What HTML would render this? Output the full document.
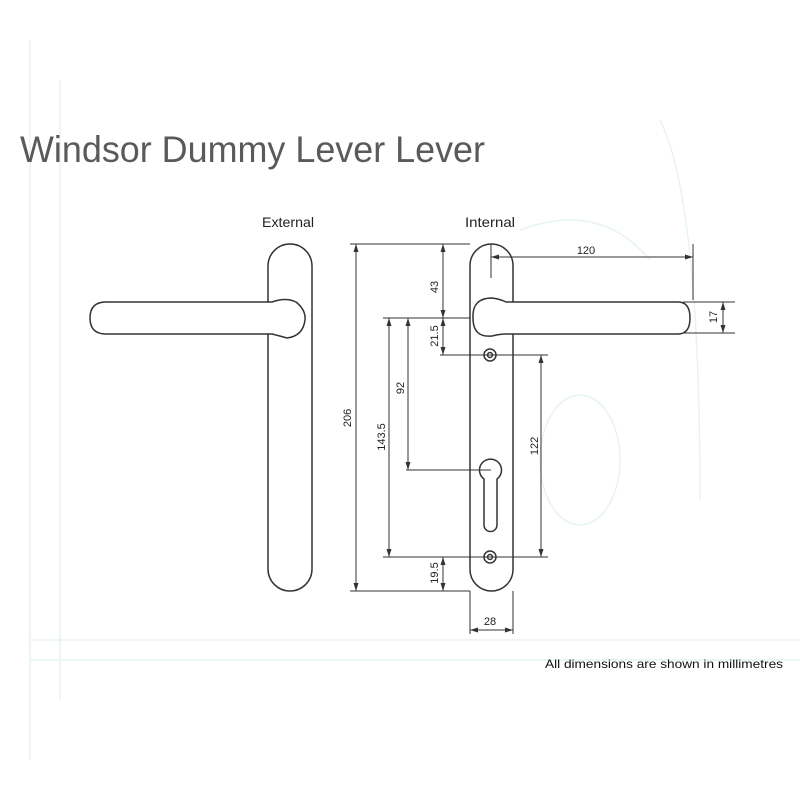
<!DOCTYPE html>
<html><head><style>html,body{margin:0;padding:0;background:#fff}svg{display:block}</style></head>
<body>
<svg width="800" height="800" viewBox="0 0 800 800" xmlns="http://www.w3.org/2000/svg" font-family="Liberation Sans, sans-serif">
<rect width="800" height="800" fill="#fff"/>
<g stroke="#e6f3f4" stroke-width="1.5" fill="none">
<path d="M30 40V760M60 80V700M660 120Q700 200 700 500M30 640H800M30 660H800M520 230Q600 200 650 260"/>
<ellipse cx="580" cy="460" rx="40" ry="65"/>
</g>
<text x="20" y="162" font-size="37" fill="#5a5a5a" textLength="465" lengthAdjust="spacingAndGlyphs">Windsor Dummy Lever Lever</text>
<text x="262" y="227" font-size="14" fill="#222" textLength="52" lengthAdjust="spacingAndGlyphs">External</text>
<text x="465" y="227" font-size="14" fill="#222" textLength="50" lengthAdjust="spacingAndGlyphs">Internal</text>
<g fill="#fff" stroke="#333" stroke-width="1.5">
<rect x="268" y="244" width="44" height="347" rx="22"/>
<path d="M106 302H272Q286 297 296 302Q306 310 305 320Q303 336 287 338Q280 336 272 334H106Q90 334 90 318Q90 302 106 302Z"/>
<rect x="470" y="244" width="43" height="347" rx="21.5"/>
<path d="M492 298Q472 298 473 318Q473 338 492 336Q500 334 506 334H678Q690 334 690 318Q690 302 678 302H506Q500 299 492 298Z"/>
<circle cx="490" cy="355" r="6"/><circle cx="490" cy="355" r="2.5"/>
<circle cx="490" cy="557" r="6"/><circle cx="490" cy="557" r="2.5"/>
<path d="M484 479A11 11 0 1 1 497 479V525A6.5 6.5 0 0 1 484 525Z"/>
</g>
<g stroke="#333" stroke-width="1" fill="none">
<path d="M350 244H470M350 591H470M356 244V591"/>
<path d="M443 244V318M383 318H470M443 318V355M440 355H548M383 557H548M443 557V591"/>
<path d="M389 318V557M408 318V470M406 470H491M541 355V557"/>
<path d="M470 591V634M513 591V634M470 630H513"/>
<path d="M491 244V278M491 257H693M693 244V300"/>
<path d="M683 302H735M683 333H735M723 302V333"/>
</g>
<g fill="#333">
<path d="M356 244l-2.5 8h5zM356 591l-2.5-8h5zM443 244l-2.5 8h5zM443 318l-2.5-8h5zM443 318l-2.5 8h5zM443 355l-2.5-8h5zM443 557l-2.5 8h5zM443 591l-2.5-8h5z"/>
<path d="M389 318l-2.5 8h5zM389 557l-2.5-8h5zM408 318l-2.5 8h5zM408 470l-2.5-8h5zM541 355l-2.5 8h5zM541 557l-2.5-8h5z"/>
<path d="M470 630l8-2.5v5zM513 630l-8-2.5v5zM491 257l8-2.5v5zM693 257l-8-2.5v5zM723 302l-2.5 8h5zM723 333l-2.5-8h5z"/>
</g>
<g font-size="11" fill="#222" text-anchor="middle">
<text transform="translate(351,418) rotate(-90)">206</text>
<text transform="translate(438,287) rotate(-90)">43</text>
<text transform="translate(438,336) rotate(-90)">21.5</text>
<text transform="translate(385,437) rotate(-90)">143.5</text>
<text transform="translate(404,388) rotate(-90)">92</text>
<text transform="translate(538,446) rotate(-90)">122</text>
<text transform="translate(438,573) rotate(-90)">19.5</text>
<text transform="translate(717,317) rotate(-90)">17</text>
<text x="586" y="254">120</text>
<text x="490" y="625">28</text>
</g>
<text x="545" y="668" font-size="12" fill="#111" textLength="238" lengthAdjust="spacingAndGlyphs">All dimensions are shown in millimetres</text>
</svg>
</body></html>
